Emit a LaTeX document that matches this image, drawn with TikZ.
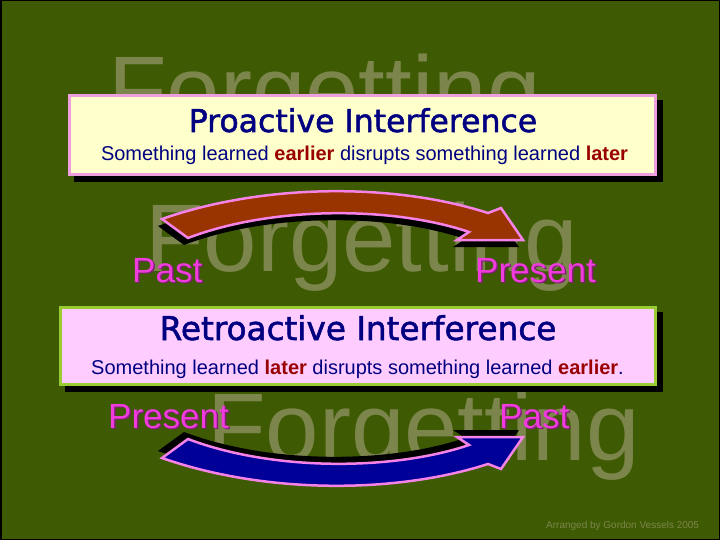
\documentclass[tikz,border=0pt]{standalone}
\usepackage{fontspec}
\setmainfont{Liberation Sans}
\newfontfamily\titlefont[FakeBold=1.6]{DejaVu Sans}
\definecolor{bg}{RGB}{62,90,2}
\definecolor{wmc}{RGB}{124,134,76}
\definecolor{yel}{RGB}{255,255,204}
\definecolor{pinkfill}{RGB}{255,204,255}
\definecolor{pinkb}{RGB}{238,160,222}
\definecolor{greenb}{RGB}{153,204,51}
\definecolor{navy}{RGB}{0,0,128}
\definecolor{dred}{RGB}{153,0,0}
\definecolor{magl}{RGB}{240,60,220}
\definecolor{magshadow}{RGB}{130,30,120}
\definecolor{pinkl}{RGB}{245,130,230}
\definecolor{brownred}{RGB}{153,51,0}
\definecolor{deepblue}{RGB}{0,0,153}
\newcommand{\myArrow}[1]{%
  \fill[black, shift={(-4,7)}] (162,219) .. controls (265,183) and (395,183) .. (488,213) -- (501,208) -- (523,240) -- (457,240) -- (469,232) .. controls (392,206) and (272,206) .. (188,238) -- cycle;
  \draw[line width=2.5pt, draw=pinkl, fill=#1, line join=miter] (162,219) .. controls (265,183) and (395,183) .. (488,213) -- (501,208) -- (523,240) -- (457,240) -- (469,232) .. controls (392,206) and (272,206) .. (188,238) -- cycle;}
\tikzset{
  wm/.style={anchor=base west, inner sep=0pt, text=wmc, font=\fontsize{96}{96}\selectfont},
  ttl/.style={anchor=base, inner sep=0pt, text=navy},
  sub/.style={anchor=base, inner sep=0pt, text=navy, font=\fontsize{20}{20}\selectfont},
  lab/.style={anchor=base west, inner sep=0pt, text=magl, font=\fontsize{35}{35}\selectfont},
  labsh/.style={anchor=base west, inner sep=0pt, text=magshadow, font=\fontsize{35}{35}\selectfont}
}
\begin{document}
\begin{tikzpicture}[x=1pt,y=-1pt]
\useasboundingbox (0,0) rectangle (720,540);
\fill[bg] (0,0) rectangle (720,540);
\draw[black, line width=1.5pt] (0.75,0.75) rectangle (719.25,539.25);
% watermarks
\node[wm] (wm1) at (108,124) {Forgetting};
\node[wm] (wm2) at (145,271) {Forgetting};
\node[wm] (wm3) at (207,460) {Forgetting};
% box 1
\fill[black] (74,100) rectangle (663,182);
\draw[line width=3pt, draw=pinkb, fill=yel] (69.5,95.5) rectangle (655.5,174.5);
\node[ttl, font=\titlefont\fontsize{31.5}{32}\selectfont] (t1) at (363,132) {Proactive Interference};
\node[sub] (s1) at (364.5,161) {Something learned \textbf{\color{dred}earlier} disrupts something learned \textbf{\color{dred}later}};
% box 2
\fill[black] (65,312) rectangle (663,392);
\draw[line width=3pt, draw=greenb, fill=pinkfill] (60.5,307.5) rectangle (655.5,384.5);
\node[ttl, font=\titlefont\fontsize{32.7}{33}\selectfont] (t2) at (358,340) {Retroactive Interference};
\node[sub] (s2) at (357.5,374) {Something learned \textbf{\color{dred}later} disrupts something learned \textbf{\color{dred}earlier}.};
% arrows
\myArrow{brownred}
\begin{scope}[shift={(0,677)}, yscale=-1]
\myArrow{deepblue}
\end{scope}
% labels
\node[labsh] (past1s) at (133.5,283.5) {Past};
\node[lab] (past1) at (132,282) {Past};
\node[labsh] (pres1s) at (476.5,283.5) {Present};
\node[lab] (pres1) at (475,282) {Present};
\node[labsh] (pres2s) at (109.5,429.5) {Present};
\node[lab] (pres2) at (108,428) {Present};
\node[labsh] (past2s) at (500.5,429.5) {Past};
\node[lab] (past2) at (499,428) {Past};
% credit
\node[anchor=base west, inner sep=0pt, text=wmc, font=\fontsize{10}{10}\selectfont] (credit) at (546,528) {Arranged by Gordon Vessels 2005};
\end{tikzpicture}
\end{document}
